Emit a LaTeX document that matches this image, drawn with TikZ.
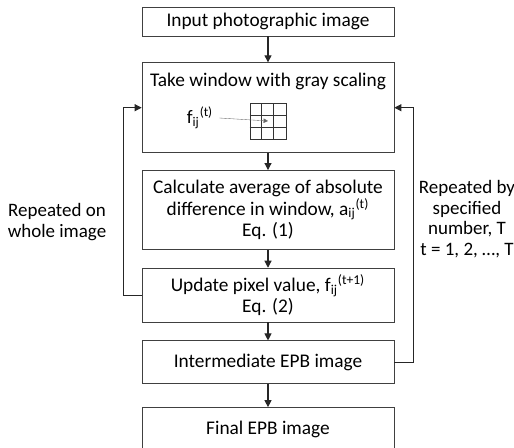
\documentclass[tikz,border=0pt]{standalone}
\usepackage{fontspec}
\setmainfont{Carlito}
\usetikzlibrary{positioning,arrows.meta}

\begin{document}
\begin{tikzpicture}[
  epbbox/.style = {draw=black!75, thin, minimum width=5.04cm, align=center, inner sep=2pt,
    font=\fontsize{11pt}{12.2pt}\selectfont},
  epbarr/.style = {->, >={Triangle[length=4pt,width=4pt]}, semithick, black!85},
  epbptr/.style = {->, >={Triangle[length=2.5pt,width=2.5pt]}, very thin, black!60},
  epblbl/.style = {align=center},
  epbgrid/.style = {draw=black!80, thin},
  node distance = 0.36cm,
  font=\fontsize{10.8pt}{11.8pt}\selectfont
]
  \useasboundingbox (0,0) rectangle (10.28,-8.96);
  % main flow
  \node[epbbox, minimum height=0.58cm] (input) at (5.36,-0.43) {Input photographic image};
  \node[epbbox, minimum height=1.8cm, below=0.52cm of input] (win) {};
  \node[below=0.1cm of win.north, font=\fontsize{11pt}{12.2pt}\selectfont] (wintitle) {Take window with gray scaling};
  \node[epbbox, minimum height=1.58cm, below=0.34cm of win] (avg)
    {Calculate average of absolute\\difference in window, a\textsubscript{ij}\textsuperscript{(t)}\\Eq. (1)};
  \node[epbbox, minimum height=1.08cm, below=of avg] (upd)
    {Update pixel value, f\textsubscript{ij}\textsuperscript{(t+1)}\\Eq. (2)};
  \node[epbbox, minimum height=0.86cm, below=of upd] (inter) {Intermediate EPB image};
  \node[epbbox, minimum height=0.86cm, below=0.46cm of inter] (final) {Final EPB image};

  % window grid
  \node[epbgrid, minimum size=0.72cm, inner sep=0pt] (wgrid) at (5.36,-2.42) {};
  \foreach \k in {1,2} {
    \draw[epbgrid] ([xshift=\k*0.24cm]wgrid.south west) -- ([xshift=\k*0.24cm]wgrid.north west);
    \draw[epbgrid] ([yshift=\k*0.24cm]wgrid.south west) -- ([yshift=\k*0.24cm]wgrid.south east);
  }
  \node (flbl) at (4.0,-2.36) {f\textsubscript{ij}\textsuperscript{(t)}};
  \draw[epbptr] (flbl.east) -- (wgrid.center);

  % arrows
  \draw[epbarr] (input) -- (win);
  \draw[epbarr] (win) -- (avg);
  \draw[epbarr] (avg) -- (upd);
  \draw[epbarr] (upd) -- (inter);
  \draw[epbarr] (inter) -- (final);

  % feedback loops
  \draw[epbarr] (upd.west) -- ++(-0.36,0) |- (win.west);
  \draw[epbarr] (inter.east) -- ++(0.38,0) |- (win.east);
  \node[epblbl] (rptwhole) at (1.14,-4.44) {Repeated on\\whole image};
  \node[epblbl] (rptnum) at (9.34,-4.38) {Repeated by\\specified\\number, T\\t = 1, 2, …, T};
\end{tikzpicture}
\end{document}
